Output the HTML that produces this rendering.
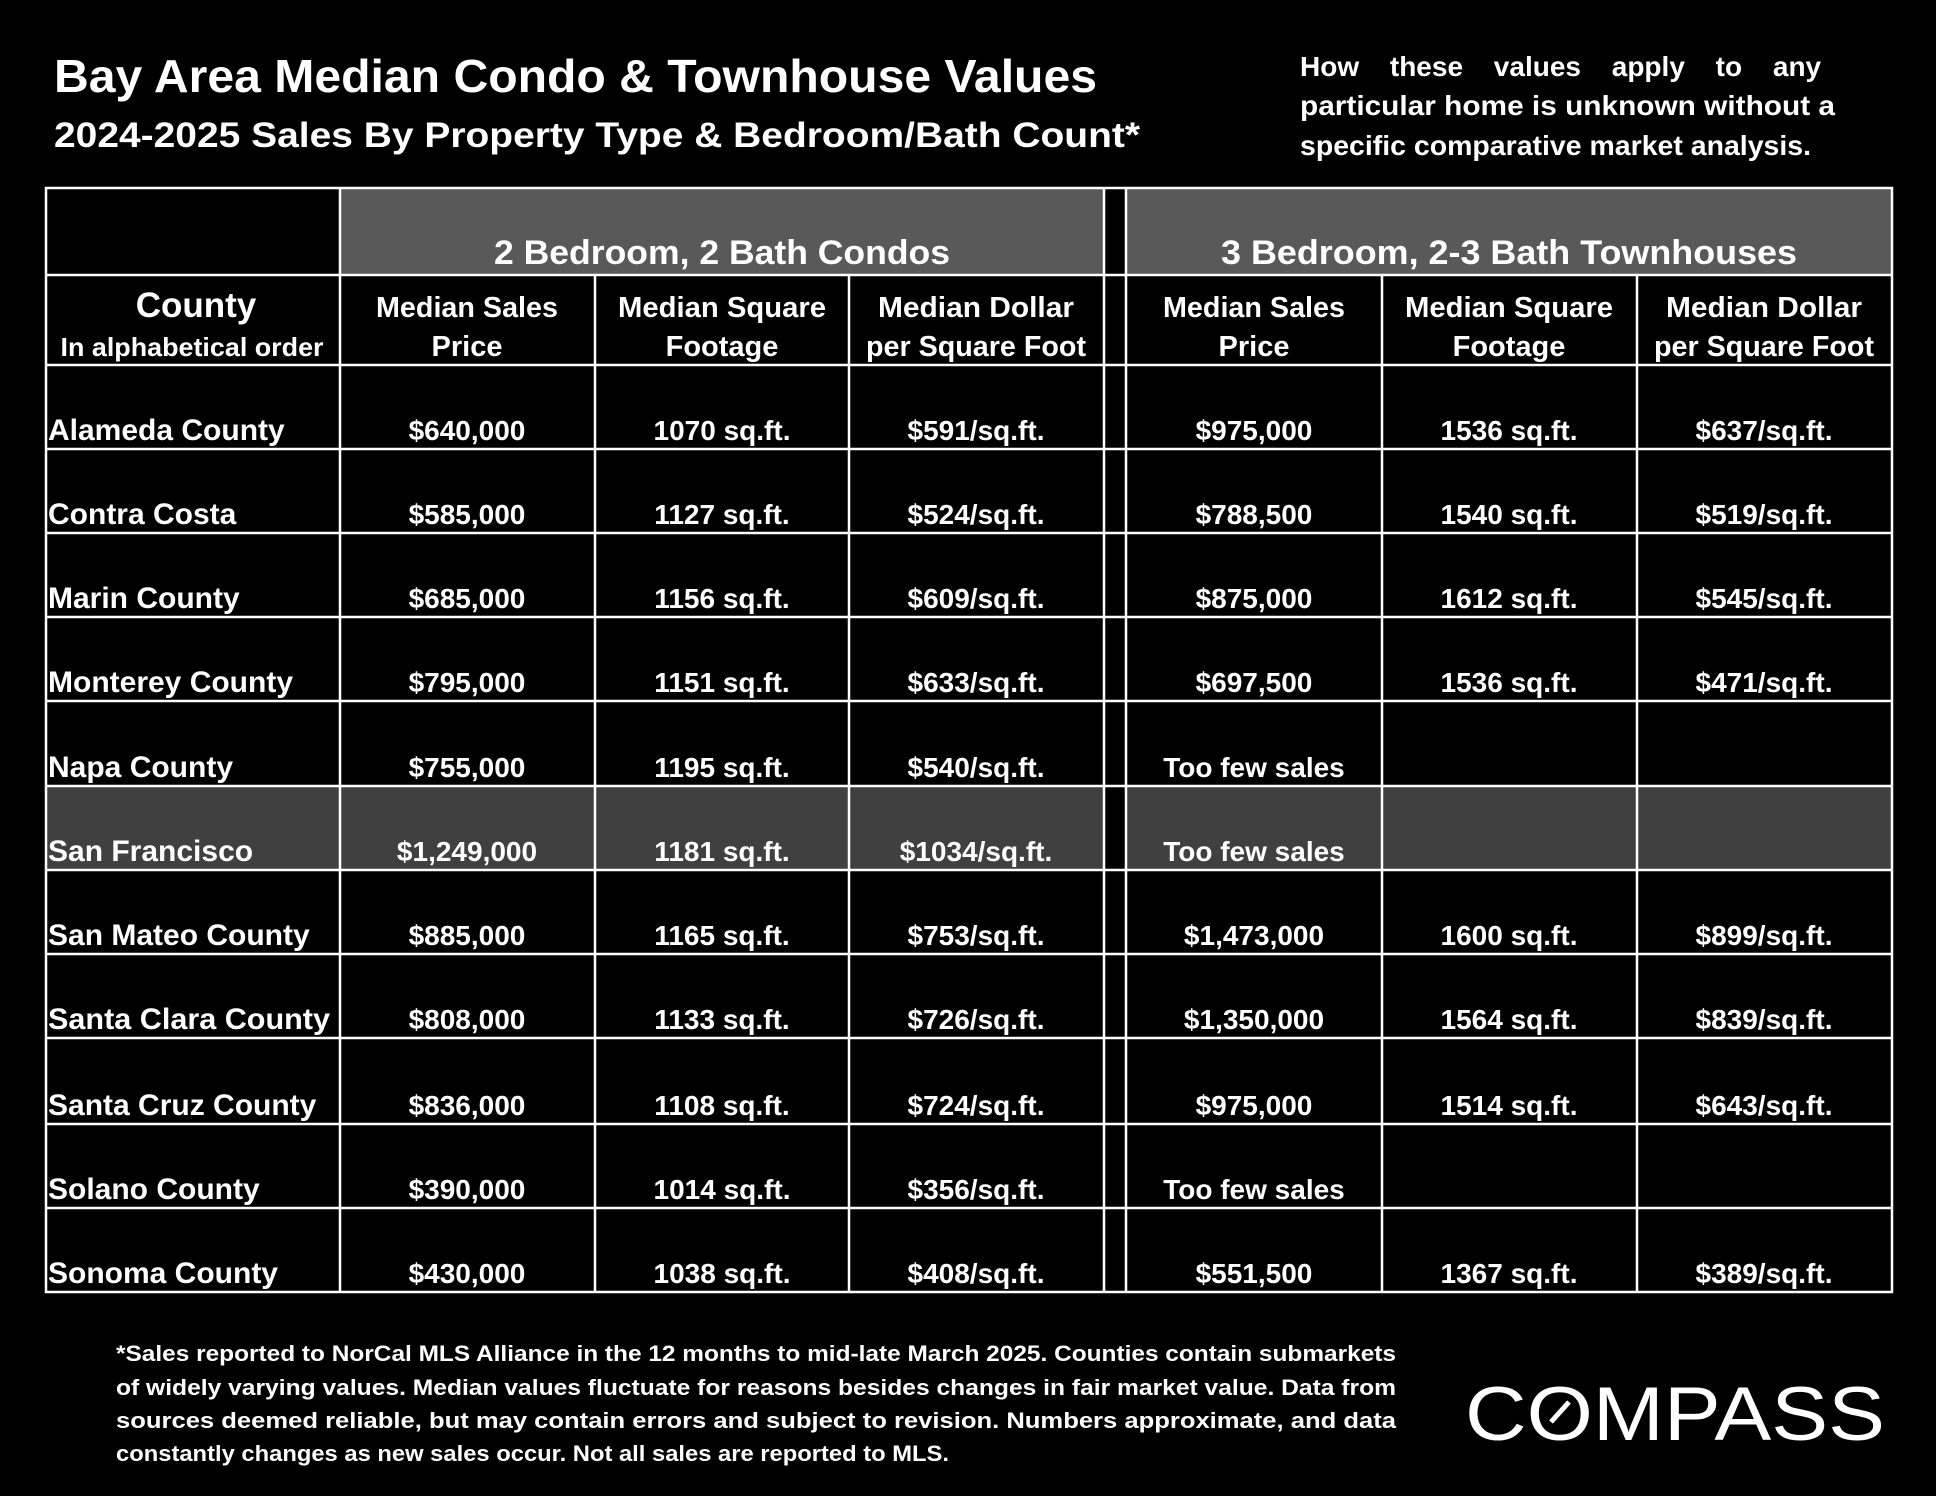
<!DOCTYPE html>
<html><head><meta charset="utf-8"><style>
html,body{margin:0;padding:0;background:#000;}
svg{display:block;}
text{font-family:"Liberation Sans",sans-serif;font-weight:bold;fill:#fff;}
</style></head><body>
<svg width="1936" height="1496" viewBox="0 0 1936 1496" xmlns="http://www.w3.org/2000/svg">
<rect width="1936" height="1496" fill="#000"/>
<text x="54" y="92" font-size="46" textLength="1043" lengthAdjust="spacingAndGlyphs">Bay Area Median Condo &amp; Townhouse Values</text>
<text x="54" y="147" font-size="35" textLength="1086" lengthAdjust="spacingAndGlyphs">2024-2025 Sales By Property Type &amp; Bedroom/Bath Count*</text>
<text x="1300" y="76" font-size="28" word-spacing="23">How these values apply to any</text>
<text x="1300" y="115" font-size="28" textLength="535" lengthAdjust="spacingAndGlyphs">particular home is unknown without a</text>
<text x="1300" y="155" font-size="28" textLength="511" lengthAdjust="spacingAndGlyphs">specific comparative market analysis.</text>

<rect x="340" y="188" width="764" height="87" fill="#595959"/>
<rect x="1126" y="188" width="766" height="87" fill="#595959"/>
<rect x="46" y="786" width="1846" height="84" fill="#404040"/>
<rect x="1104" y="786" width="22" height="84" fill="#000"/>

<g stroke="#fff" stroke-width="2.5" fill="none">
<rect x="46" y="188" width="1846" height="1104"/>
<line x1="340" y1="188" x2="340" y2="1292"/>
<line x1="1104" y1="188" x2="1104" y2="1292"/>
<line x1="1126" y1="188" x2="1126" y2="1292"/>
<line x1="595" y1="275" x2="595" y2="1292"/>
<line x1="849" y1="275" x2="849" y2="1292"/>
<line x1="1382" y1="275" x2="1382" y2="1292"/>
<line x1="1637" y1="275" x2="1637" y2="1292"/>
<line x1="46" y1="275" x2="1892" y2="275"/>
<line x1="46" y1="365" x2="1892" y2="365"/>
<line x1="46" y1="449" x2="1892" y2="449"/>
<line x1="46" y1="533" x2="1892" y2="533"/>
<line x1="46" y1="617" x2="1892" y2="617"/>
<line x1="46" y1="701" x2="1892" y2="701"/>
<line x1="46" y1="786" x2="1892" y2="786"/>
<line x1="46" y1="870" x2="1892" y2="870"/>
<line x1="46" y1="954" x2="1892" y2="954"/>
<line x1="46" y1="1038" x2="1892" y2="1038"/>
<line x1="46" y1="1124" x2="1892" y2="1124"/>
<line x1="46" y1="1208" x2="1892" y2="1208"/>
</g>

<g text-anchor="middle">
<text x="722" y="264" font-size="34" textLength="456" lengthAdjust="spacingAndGlyphs">2 Bedroom, 2 Bath Condos</text>
<text x="1509" y="264" font-size="34" textLength="576" lengthAdjust="spacingAndGlyphs">3 Bedroom, 2-3 Bath Townhouses</text>
<text x="196" y="317" font-size="35">County</text>
<text x="192" y="356" font-size="26" textLength="263" lengthAdjust="spacingAndGlyphs">In alphabetical order</text>
<g font-size="29">
<text x="467" y="317" textLength="182" lengthAdjust="spacingAndGlyphs">Median Sales</text>
<text x="467" y="356">Price</text>
<text x="722" y="317" textLength="208" lengthAdjust="spacingAndGlyphs">Median Square</text>
<text x="722" y="356">Footage</text>
<text x="976" y="317" textLength="196" lengthAdjust="spacingAndGlyphs">Median Dollar</text>
<text x="976" y="356" textLength="220" lengthAdjust="spacingAndGlyphs">per Square Foot</text>
<text x="1254" y="317" textLength="182" lengthAdjust="spacingAndGlyphs">Median Sales</text>
<text x="1254" y="356">Price</text>
<text x="1509" y="317" textLength="208" lengthAdjust="spacingAndGlyphs">Median Square</text>
<text x="1509" y="356">Footage</text>
<text x="1764" y="317" textLength="196" lengthAdjust="spacingAndGlyphs">Median Dollar</text>
<text x="1764" y="356" textLength="220" lengthAdjust="spacingAndGlyphs">per Square Foot</text>
</g>
</g>

<g font-size="28">
<g text-anchor="start" font-size="30">
<text x="48" y="440">Alameda County</text>
<text x="48" y="524">Contra Costa</text>
<text x="48" y="608">Marin County</text>
<text x="48" y="692">Monterey County</text>
<text x="48" y="777">Napa County</text>
<text x="48" y="861">San Francisco</text>
<text x="48" y="945">San Mateo County</text>
<text x="48" y="1029" textLength="282" lengthAdjust="spacingAndGlyphs">Santa Clara County</text>
<text x="48" y="1115">Santa Cruz County</text>
<text x="48" y="1199">Solano County</text>
<text x="48" y="1283">Sonoma County</text>
</g>
<g text-anchor="middle">
<text x="467" y="440">$640,000</text><text x="722" y="440">1070 sq.ft.</text><text x="976" y="440">$591/sq.ft.</text><text x="1254" y="440">$975,000</text><text x="1509" y="440">1536 sq.ft.</text><text x="1764" y="440">$637/sq.ft.</text>
<text x="467" y="524">$585,000</text><text x="722" y="524">1127 sq.ft.</text><text x="976" y="524">$524/sq.ft.</text><text x="1254" y="524">$788,500</text><text x="1509" y="524">1540 sq.ft.</text><text x="1764" y="524">$519/sq.ft.</text>
<text x="467" y="608">$685,000</text><text x="722" y="608">1156 sq.ft.</text><text x="976" y="608">$609/sq.ft.</text><text x="1254" y="608">$875,000</text><text x="1509" y="608">1612 sq.ft.</text><text x="1764" y="608">$545/sq.ft.</text>
<text x="467" y="692">$795,000</text><text x="722" y="692">1151 sq.ft.</text><text x="976" y="692">$633/sq.ft.</text><text x="1254" y="692">$697,500</text><text x="1509" y="692">1536 sq.ft.</text><text x="1764" y="692">$471/sq.ft.</text>
<text x="467" y="777">$755,000</text><text x="722" y="777">1195 sq.ft.</text><text x="976" y="777">$540/sq.ft.</text><text x="1254" y="777">Too few sales</text>
<text x="467" y="861">$1,249,000</text><text x="722" y="861">1181 sq.ft.</text><text x="976" y="861">$1034/sq.ft.</text><text x="1254" y="861">Too few sales</text>
<text x="467" y="945">$885,000</text><text x="722" y="945">1165 sq.ft.</text><text x="976" y="945">$753/sq.ft.</text><text x="1254" y="945">$1,473,000</text><text x="1509" y="945">1600 sq.ft.</text><text x="1764" y="945">$899/sq.ft.</text>
<text x="467" y="1029">$808,000</text><text x="722" y="1029">1133 sq.ft.</text><text x="976" y="1029">$726/sq.ft.</text><text x="1254" y="1029">$1,350,000</text><text x="1509" y="1029">1564 sq.ft.</text><text x="1764" y="1029">$839/sq.ft.</text>
<text x="467" y="1115">$836,000</text><text x="722" y="1115">1108 sq.ft.</text><text x="976" y="1115">$724/sq.ft.</text><text x="1254" y="1115">$975,000</text><text x="1509" y="1115">1514 sq.ft.</text><text x="1764" y="1115">$643/sq.ft.</text>
<text x="467" y="1199">$390,000</text><text x="722" y="1199">1014 sq.ft.</text><text x="976" y="1199">$356/sq.ft.</text><text x="1254" y="1199">Too few sales</text>
<text x="467" y="1283">$430,000</text><text x="722" y="1283">1038 sq.ft.</text><text x="976" y="1283">$408/sq.ft.</text><text x="1254" y="1283">$551,500</text><text x="1509" y="1283">1367 sq.ft.</text><text x="1764" y="1283">$389/sq.ft.</text>
</g>
</g>

<g font-size="22">
<text x="116" y="1361" textLength="1280" lengthAdjust="spacingAndGlyphs">*Sales reported to NorCal MLS Alliance in the 12 months to mid-late March 2025. Counties contain submarkets</text>
<text x="116" y="1395" textLength="1280" lengthAdjust="spacingAndGlyphs">of widely varying values. Median values fluctuate for reasons besides changes in fair market value. Data from</text>
<text x="116" y="1428" textLength="1280" lengthAdjust="spacingAndGlyphs">sources deemed reliable, but may contain errors and subject to revision.  Numbers approximate, and data</text>
<text x="116" y="1461" textLength="833" lengthAdjust="spacingAndGlyphs">constantly changes as new sales occur. Not all sales are reported to MLS.</text>
</g>

<text x="1465" y="1440" font-size="76" style="font-weight:normal" textLength="420" lengthAdjust="spacingAndGlyphs">COMPASS</text>
<line x1="1551" y1="1422" x2="1569" y2="1402" stroke="#fff" stroke-width="5"/>
</svg>
</body></html>
